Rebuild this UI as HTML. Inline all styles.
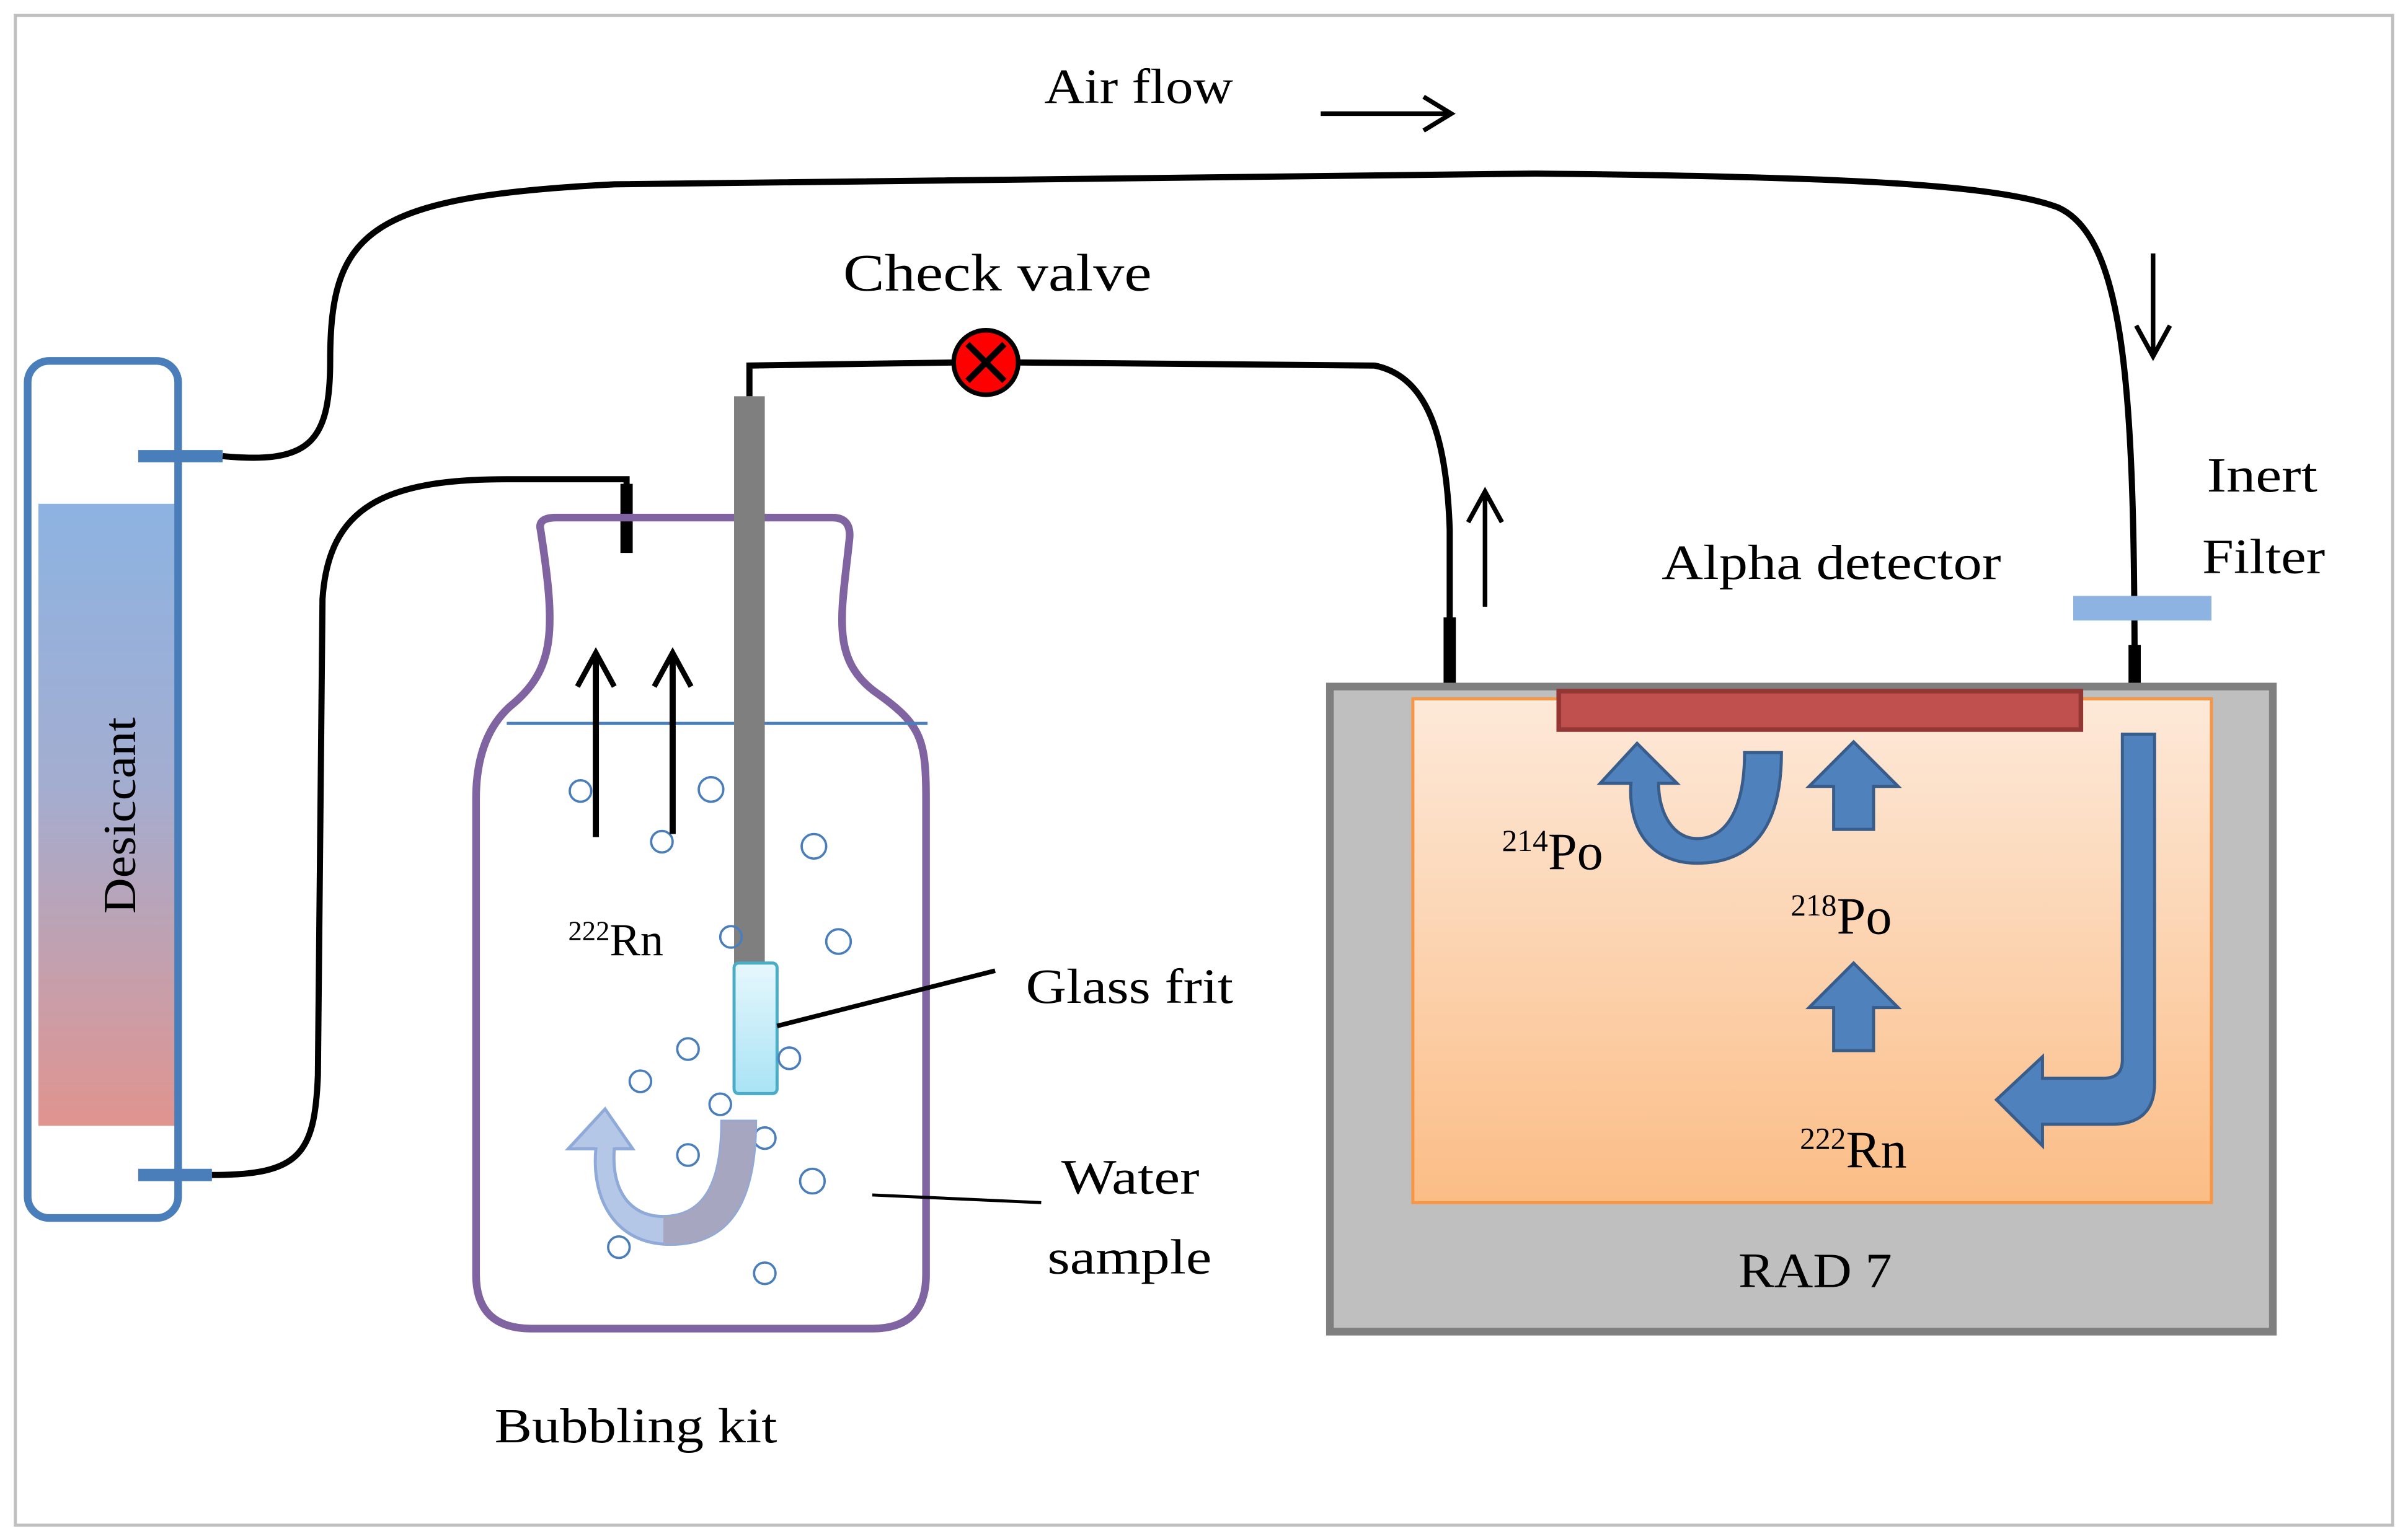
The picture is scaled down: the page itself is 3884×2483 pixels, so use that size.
<!DOCTYPE html>
<html><head><meta charset="utf-8"><style>
html,body{margin:0;padding:0;background:#fff;}
svg{display:block;}
text{font-family:"Liberation Serif",serif;fill:#000;}
</style></head><body>
<svg width="3884" height="2483" viewBox="0 0 1568 1002" preserveAspectRatio="none" xmlns="http://www.w3.org/2000/svg">
<defs>
<linearGradient id="des" x1="0" y1="0" x2="0" y2="1"><stop offset="0" stop-color="#8db3e2"/><stop offset="0.45" stop-color="#a3add0"/><stop offset="1" stop-color="#e0948f"/></linearGradient>
<linearGradient id="org" x1="0" y1="0" x2="0" y2="1"><stop offset="0" stop-color="#fde9d9"/><stop offset="1" stop-color="#fbbd86"/></linearGradient>
<linearGradient id="frit" x1="0" y1="0" x2="0" y2="1"><stop offset="0" stop-color="#e6f7fd"/><stop offset="1" stop-color="#a9e3f5"/></linearGradient>
</defs>
<rect x="10" y="10" width="1548" height="983" fill="#fff" stroke="#bfbfbf" stroke-width="2"/>

<!-- Desiccant -->
<rect x="25" y="328" width="90" height="405" fill="url(#des)"/>
<rect x="18" y="235" width="98" height="558" rx="14" fill="none" stroke="#4a7ebb" stroke-width="5"/>
<line x1="90" y1="297" x2="145" y2="297" stroke="#4a7ebb" stroke-width="8"/>
<line x1="90" y1="765" x2="138" y2="765" stroke="#4a7ebb" stroke-width="8"/>
<text x="0" y="0" font-size="30" textLength="128" lengthAdjust="spacingAndGlyphs" transform="translate(88,595) rotate(-90)">Desiccant</text>

<!-- tubes -->
<path d="M145,297 C200,302 215,290 215,235 C215,150 240,128 400,120 L1000,113 C1200,115 1300,120 1340,135 C1385,155 1390,260 1390,450" fill="none" stroke="#000" stroke-width="4"/>
<path d="M138,765 C195,765 205,752 207,700 L210,390 C214,330 250,312 330,312 L408,312 L408,330" fill="none" stroke="#000" stroke-width="4"/>
<line x1="408" y1="315" x2="408" y2="360" stroke="#000" stroke-width="8"/>
<path d="M488,258 L488,238 L622,236" fill="none" stroke="#000" stroke-width="4"/>
<path d="M664,236 L895,238 C930,245 942,285 944,345 L944,405" fill="none" stroke="#000" stroke-width="4"/>
<line x1="944" y1="402" x2="944" y2="456" stroke="#000" stroke-width="8"/>
<line x1="1390" y1="420" x2="1390" y2="456" stroke="#000" stroke-width="8"/>

<!-- Jar -->
<path d="M352,345 Q350,337 362,337 L542,337 Q555,337 553,352 C548,400 540,430 572,452 C600,472 603,482 603,520 L603,830 Q603,865 568,865 L346,865 Q310,865 310,830 L310,520 Q310,480 332,460 C362,436 362,410 352,345 Z" fill="none" stroke="#8064a2" stroke-width="5"/>
<line x1="330" y1="471" x2="604" y2="471" stroke="#4a7ebb" stroke-width="2"/>
<rect x="478" y="258" width="20" height="372" fill="#7f7f7f"/>
<rect x="478" y="627" width="28" height="85" rx="3" fill="url(#frit)" stroke="#4bacc6" stroke-width="2"/>
<line x1="506" y1="668" x2="648" y2="632" stroke="#000" stroke-width="3"/>
<line x1="568" y1="778" x2="678" y2="783" stroke="#000" stroke-width="2"/>

<!-- bubbles -->
<g fill="none" stroke="#4a7ebb" stroke-width="1.5">
<circle cx="378" cy="515" r="7"/><circle cx="463" cy="514" r="8"/><circle cx="431" cy="548" r="7"/><circle cx="530" cy="551" r="8"/><circle cx="546" cy="613" r="8"/><circle cx="476" cy="610" r="7"/><circle cx="448" cy="683" r="7"/><circle cx="514" cy="689" r="7"/><circle cx="417" cy="704" r="7"/><circle cx="469" cy="719" r="7"/><circle cx="498" cy="741" r="7"/><circle cx="448" cy="752" r="7"/><circle cx="529" cy="769" r="8"/><circle cx="403" cy="812" r="7"/><circle cx="498" cy="829" r="7"/>
</g>
<line x1="388" y1="545" x2="388" y2="428" stroke="#000" stroke-width="4"/>
<path d="M376,447 L388,425 L400,447" fill="none" stroke="#000" stroke-width="3.5"/>
<line x1="438" y1="543" x2="438" y2="428" stroke="#000" stroke-width="4"/>
<path d="M426,447 L438,425 L450,447" fill="none" stroke="#000" stroke-width="3.5"/>
<path d="M470,730 L492,730 C492,790 470,812 432,810 C400,808 385,780 388,748 L370,748 L394,722 L412,748 L400,748 C398,775 410,792 432,792 C460,792 470,768 470,730 Z" fill="#b4c7e7" stroke="#8fa9d8" stroke-width="2"/>
<path d="M470,730 L492,730 C492,790 470,812 432,810 L432,792 C460,792 470,768 470,730 Z" fill="#a6a6c0"/>

<!-- valve -->
<circle cx="642" cy="236" r="21" fill="#ff0000" stroke="#000" stroke-width="3"/>
<path d="M630,224 L654,248 M654,224 L630,248" stroke="#000" stroke-width="4"/>

<!-- RAD7 -->
<rect x="866" y="447" width="614" height="420" fill="#bfbfbf" stroke="#7f7f7f" stroke-width="5"/>
<rect x="920" y="455" width="520" height="328" fill="url(#org)" stroke="#f79646" stroke-width="2"/>
<rect x="1015" y="450" width="340" height="25" fill="#c0504d" stroke="#943634" stroke-width="3"/>
<rect x="1350" y="388" width="90" height="16" fill="#8db3e2"/>
<path d="M1382,478 L1403,478 L1403,705 Q1403,732 1375,732 L1330,732 L1330,746 L1300,716 L1330,688 L1330,702 L1370,702 Q1382,702 1382,690 Z" fill="#4f81bd" stroke="#385d8a" stroke-width="2"/>
<path d="M1194,540 L1194,512 L1178,512 L1207,483 L1236,512 L1220,512 L1220,540 Z" fill="#4f81bd" stroke="#385d8a" stroke-width="2"/>
<path d="M1194,684 L1194,656 L1178,656 L1207,627 L1236,656 L1220,656 L1220,684 Z" fill="#4f81bd" stroke="#385d8a" stroke-width="2"/>
<path d="M1136,490 L1160,490 C1160,540 1140,562 1105,562 C1075,562 1060,540 1062,510 L1042,510 L1066,484 L1092,510 L1080,510 C1080,530 1090,546 1105,546 C1125,546 1136,525 1136,490 Z" fill="#4f81bd" stroke="#385d8a" stroke-width="2"/>

<!-- labels -->
<text x="680" y="67" font-size="32" textLength="123" lengthAdjust="spacingAndGlyphs">Air flow</text>
<line x1="860" y1="74" x2="943" y2="74" stroke="#000" stroke-width="3"/>
<path d="M927,63 L945,74 L927,85" fill="none" stroke="#000" stroke-width="3"/>
<line x1="1402" y1="165" x2="1402" y2="230" stroke="#000" stroke-width="3"/>
<path d="M1391,212 L1402,232 L1413,212" fill="none" stroke="#000" stroke-width="3"/>
<line x1="967" y1="395" x2="967" y2="322" stroke="#000" stroke-width="3"/>
<path d="M956,340 L967,320 L978,340" fill="none" stroke="#000" stroke-width="3"/>
<text x="549" y="189" font-size="34" textLength="201" lengthAdjust="spacingAndGlyphs">Check valve</text>
<text x="1437" y="320" font-size="32" textLength="72" lengthAdjust="spacingAndGlyphs">Inert</text>
<text x="1434" y="373" font-size="32" textLength="80" lengthAdjust="spacingAndGlyphs">Filter</text>
<text x="1082" y="377" font-size="32" textLength="221" lengthAdjust="spacingAndGlyphs">Alpha detector</text>
<text x="668" y="653" font-size="32" textLength="135" lengthAdjust="spacingAndGlyphs">Glass frit</text>
<text x="691" y="777" font-size="32" textLength="90" lengthAdjust="spacingAndGlyphs">Water</text>
<text x="682" y="829" font-size="32" textLength="107" lengthAdjust="spacingAndGlyphs">sample</text>
<text x="322" y="939" font-size="32" textLength="184" lengthAdjust="spacingAndGlyphs">Bubbling kit</text>
<text x="1132" y="838" font-size="32" textLength="100" lengthAdjust="spacingAndGlyphs">RAD 7</text>
<text x="370" y="622" font-size="30"><tspan font-size="18" dy="-10">222</tspan><tspan dy="10">Rn</tspan></text>
<text x="978" y="566" font-size="34"><tspan font-size="20" dy="-12">214</tspan><tspan dy="12">Po</tspan></text>
<text x="1166" y="608" font-size="34"><tspan font-size="20" dy="-12">218</tspan><tspan dy="12">Po</tspan></text>
<text x="1172" y="760" font-size="34"><tspan font-size="20" dy="-12">222</tspan><tspan dy="12">Rn</tspan></text>
</svg>
</body></html>
